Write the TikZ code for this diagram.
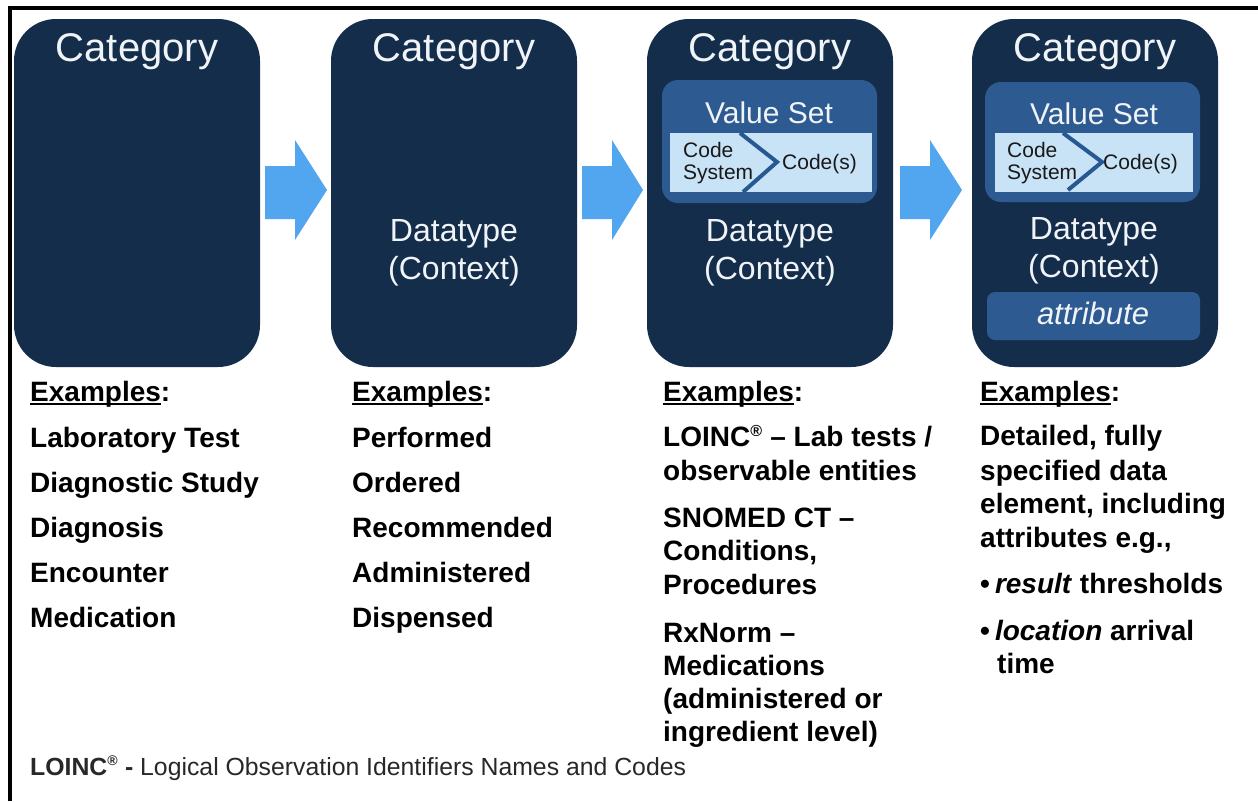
\documentclass[tikz,border=0pt]{standalone}
\usepackage{fontspec}
\setmainfont{Liberation Sans}
\definecolor{navy}{RGB}{20,45,74}
\definecolor{vsblue}{RGB}{45,90,145}
\definecolor{lightblue}{RGB}{200,226,246}
\definecolor{arrowblue}{RGB}{82,166,240}
\definecolor{chev}{RGB}{40,88,145}
\definecolor{boxtext}{RGB}{240,244,248}
\definecolor{footgray}{RGB}{40,40,40}
\newcommand\fsz[2]{\fontsize{#1}{#2}\selectfont}
\newcommand\ulx[1]{\setbox0\hbox{#1}\rlap{\rule[-3.5pt]{\wd0}{2pt}}\box0}
\tikzset{
  catbox/.style={fill=navy, rounded corners=42pt, minimum width=246pt, minimum height=348pt, inner sep=0pt},
  cattitle/.style={anchor=base, text=boxtext, font=\fsz{40}{46}, inner sep=0pt},
  dtype/.style={anchor=base, text=boxtext, font=\fsz{32}{38}, inner sep=0pt},
  vsbox/.style={fill=vsblue, rounded corners=16pt, inner sep=0pt},
  lbox/.style={fill=lightblue, inner sep=0pt},
  vstitle/.style={anchor=base, text=boxtext, font=\fsz{30}{36}, inner sep=0pt},
  codetxt/.style={anchor=base west, text=black!90, font=\fsz{21}{24}, inner sep=0pt},
  chevron/.style={draw=chev, line width=4pt},
  blockarrow/.style={fill=arrowblue},
  ex/.style={anchor=base west, font=\bfseries\fsz{28}{34}, inner sep=0pt},
}
\begin{document}
\begin{tikzpicture}[x=1pt,y=-1pt]
\useasboundingbox (0,0) rectangle (1258,801);
\fill[white] (0,0) rectangle (1258,801);
\draw[line width=4pt] (9.5,801) -- (9.5,8) -- (1260,8);

% category boxes
\node[catbox] (b1) at (137,193) {};
\node[catbox] (b2) at (454,193) {};
\node[catbox] (b3) at (770,193) {};
\node[catbox] (b4) at (1095,193) {};

\node[cattitle] (t1) at (137,61) {Category};
\node[cattitle] (t2) at (454,61) {Category};
\node[cattitle] (t3) at (770,61) {Category};
\node[cattitle] (t4) at (1095,61) {Category};

% block arrows
\fill[blockarrow] (265,166) -- (295,166) -- (295,140) -- (327,190) -- (295,240) -- (295,219) -- (265,219) -- cycle;
\fill[blockarrow] (582,166) -- (612,166) -- (612,140) -- (643,190) -- (612,240) -- (612,219) -- (582,219) -- cycle;
\fill[blockarrow] (900,166) -- (930,166) -- (930,140) -- (962,190) -- (930,240) -- (930,219) -- (900,219) -- cycle;

% datatype
\node[dtype] (d2) at (454,241) {Datatype};
\node[dtype] (x2) at (454,279) {(Context)};
\node[dtype] (d3) at (770,241) {Datatype};
\node[dtype] (x3) at (770,279) {(Context)};
\node[dtype] (d4) at (1094,239) {Datatype};
\node[dtype] (x4) at (1094,277) {(Context)};

% value set box 3
\fill[vsbox] (662,80) rectangle (877,203);
\fill[lbox] (670,133) rectangle (872,192);
\node[vstitle] (v3) at (769,123) {Value Set};
\draw[chevron] (740,133) -- (777,162) -- (743,192);
\node[codetxt] (cs3a) at (683,157) {Code};
\node[codetxt] (cs3b) at (683,179) {System};
\node[codetxt] (cd3) at (782,169) {Code(s)};

% value set box 4
\fill[vsbox] (985,82) rectangle (1200,202);
\fill[lbox] (995,133) rectangle (1193,192);
\node[vstitle] (v4) at (1094,124) {Value Set};
\draw[chevron] (1063,133) -- (1102,162) -- (1068,190);
\node[codetxt] (cs4a) at (1007,157) {Code};
\node[codetxt] (cs4b) at (1007,179) {System};
\node[codetxt] (cd4) at (1103,169) {Code(s)};

% attribute
\fill[vsblue, rounded corners=8pt] (987,292) rectangle (1200,340);
\node[dtype, font=\itshape\fsz{31}{36}] (att) at (1093,324) {attribute};

% examples
\node[ex] (e1) at (30,401) {\ulx{Examples}:};
\node[ex] (e2) at (352,401) {\ulx{Examples}:};
\node[ex] (e3) at (663,401) {\ulx{Examples}:};
\node[ex] (e4) at (980,401) {\ulx{Examples}:};

\foreach \yy/\txt in {447/{Laboratory Test},492/{Diagnostic Study},537/{Diagnosis},582/{Encounter},627/{Medication}}
  \node[ex] (ca\yy) at (30,\yy) {\txt};
\foreach \yy/\txt in {447/{Performed},492/{Ordered},537/{Recommended},582/{Administered},627/{Dispensed}}
  \node[ex] (cb\yy) at (352,\yy) {\txt};
\foreach \yy/\txt in {446/{LOINC\textsuperscript{\fsz{16}{16}®} – Lab tests /},480/{observable entities},527/{SNOMED CT –},560/{Conditions,},594/{Procedures},642/{RxNorm –},675/{Medications},708/{(administered or},741/{ingredient level)}}
  \node[ex] (cc\yy) at (663,\yy) {\txt};
\foreach \yy/\txt in {445/{Detailed, fully},480/{specified data},513/{element, including},547/{attributes e.g.,}}
  \node[ex] (cd\yy) at (980,\yy) {\txt};
\node[ex] (cd593) at (980,593) {•\hspace{5pt}\textit{result} thresholds};
\node[ex] (cd640) at (980,640) {•\hspace{5pt}\textit{location} arrival};
\node[ex] (cd673) at (997,673) {time};

% footnote
\node[anchor=base west, inner sep=0pt, text=footgray, font=\fsz{24.8}{28}] (foot) at (30,775) {\textbf{LOINC\textsuperscript{\fsz{14}{14}®} -} Logical Observation Identifiers Names and Codes};
\end{tikzpicture}
\end{document}
